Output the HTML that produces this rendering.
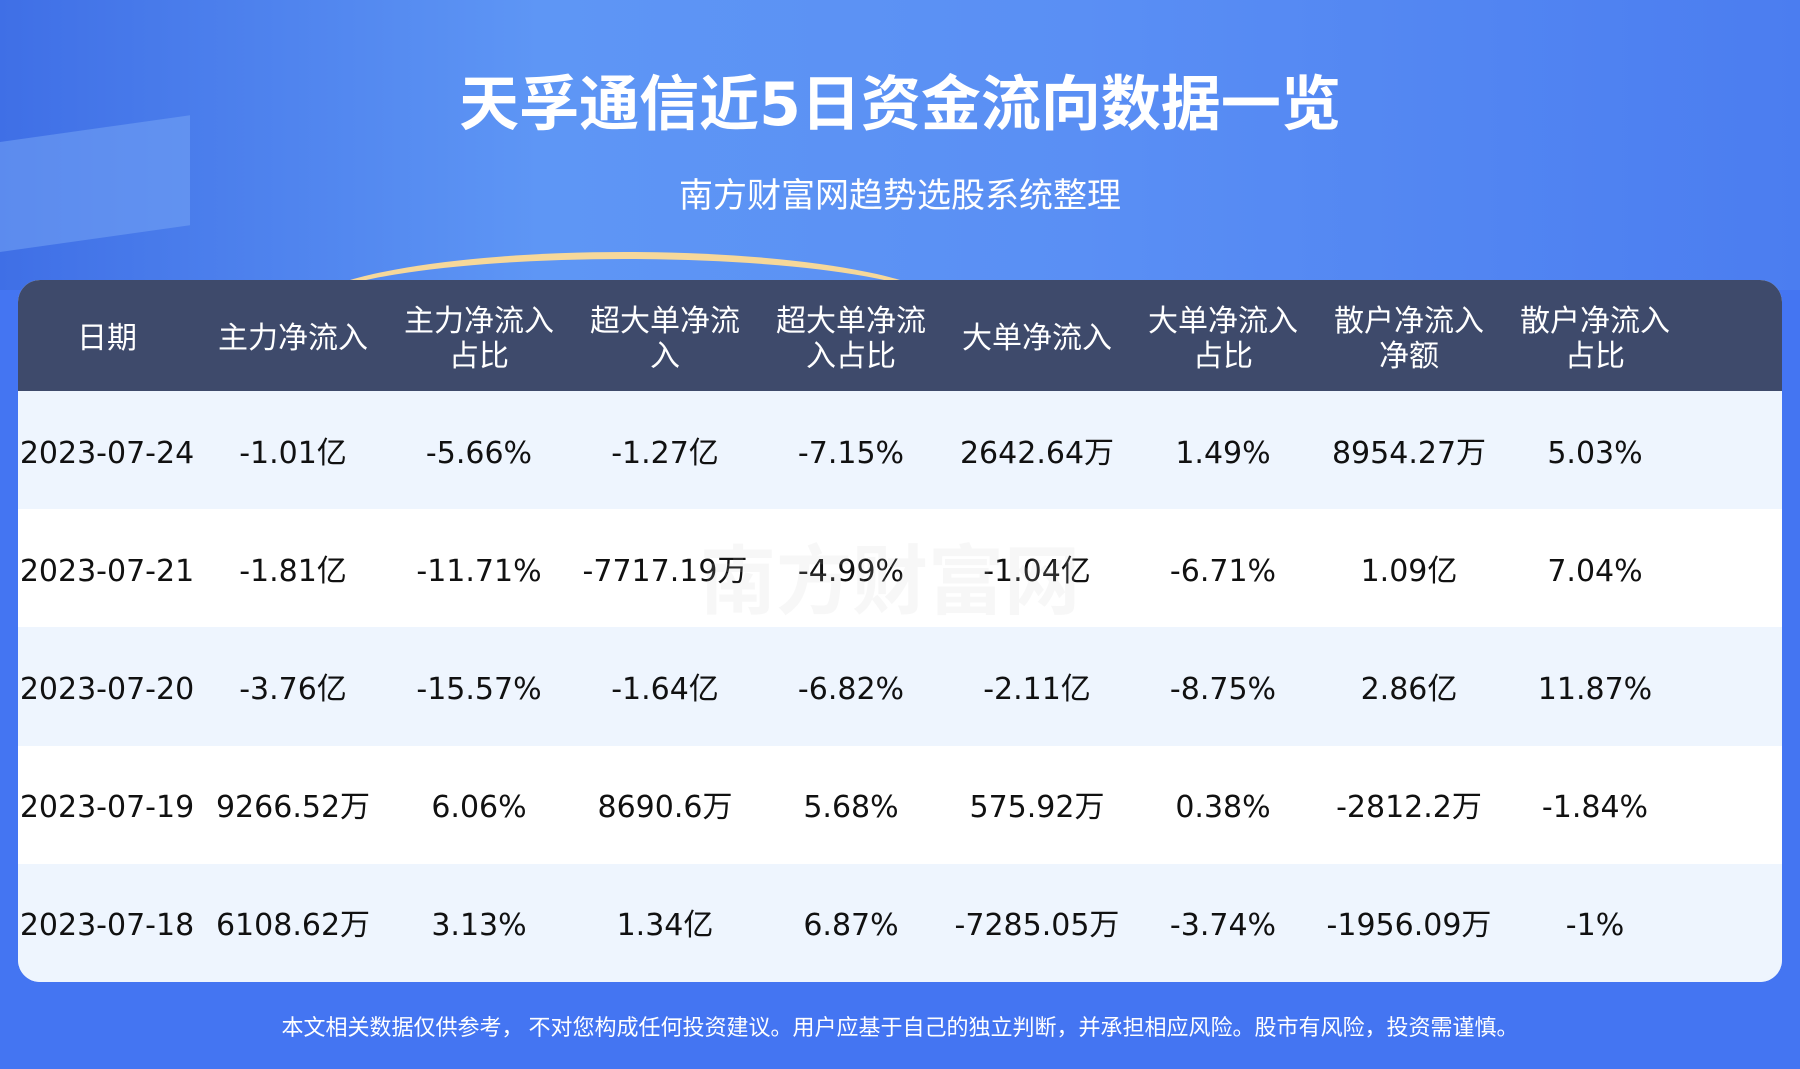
<!DOCTYPE html>
<html><head><meta charset="utf-8"><style>
*{margin:0;padding:0;box-sizing:border-box}
body{width:1800px;height:1069px;overflow:hidden;background:#4475f2;font-family:"DejaVu Sans","Noto Sans CJK SC",sans-serif;position:relative}
.top{position:absolute;left:0;top:0;width:1800px;height:290px;background:linear-gradient(90deg,#3f6fe6 0%,#5e96f5 30%,#5a8ff4 60%,#4b7df0 100%)}
.deco1{position:absolute;left:-20px;top:130px;width:210px;height:110px;background:#7aa8f5;opacity:.5;transform:skewY(-8deg)}
.arc{position:absolute;left:300px;top:252px;width:650px;height:120px;border-radius:50%;border-top:7px solid #f6d89a}
.title{position:absolute;left:0;width:1800px;top:56px;text-align:center;color:#fff;font-weight:bold;font-size:60px;font-family:"DejaVu Sans","Noto Sans CJK SC",sans-serif}
.sub{position:absolute;left:0;width:1800px;top:168px;text-align:center;color:#fff;font-size:34px;font-family:"Noto Sans CJK SC",sans-serif}
.tbl{position:absolute;left:18px;top:280px;width:1764px;height:702px;border-radius:22px;overflow:hidden;background:#fff}
.hd{height:111px;background:#3e4a6b;display:flex}
.row{height:118.2px;display:flex;padding-top:7px}
.row:nth-child(even){background:#eef5fe}
.row:nth-child(odd){background:#fff}
.c{width:186px;display:flex;align-items:center;justify-content:center;text-align:center;white-space:nowrap}
.hd .c{color:#fff;font-size:30px;line-height:35px;font-family:"Noto Sans CJK SC",sans-serif}
.row .c{font-size:30px;line-height:1;color:#111}
.first{margin-left:-4px}
.foot{position:absolute;left:0;width:1800px;top:1010px;text-align:center;color:#fff;font-size:22px;font-family:"Noto Sans CJK SC",sans-serif}
.wm{position:absolute;left:700px;top:520px;font-size:76px;color:rgba(200,200,200,.15);font-family:"Noto Sans CJK SC",sans-serif;font-weight:bold}
</style></head><body>
<div class="top"><div class="deco1"></div><div class="arc"></div></div>
<div class="title">天孚通信近5日资金流向数据一览</div>
<div class="sub">南方财富网趋势选股系统整理</div>
<div class="tbl">
<div class="hd"><div class="c first">日期</div><div class="c">主力净流入</div><div class="c">主力净流入<br>占比</div><div class="c">超大单净流<br>入</div><div class="c">超大单净流<br>入占比</div><div class="c">大单净流入</div><div class="c">大单净流入<br>占比</div><div class="c">散户净流入<br>净额</div><div class="c">散户净流入<br>占比</div></div>
<div class="row"><div class="c first">2023-07-24</div><div class="c">-1.01亿</div><div class="c">-5.66%</div><div class="c">-1.27亿</div><div class="c">-7.15%</div><div class="c">2642.64万</div><div class="c">1.49%</div><div class="c">8954.27万</div><div class="c">5.03%</div></div>
<div class="row"><div class="c first">2023-07-21</div><div class="c">-1.81亿</div><div class="c">-11.71%</div><div class="c">-7717.19万</div><div class="c">-4.99%</div><div class="c">-1.04亿</div><div class="c">-6.71%</div><div class="c">1.09亿</div><div class="c">7.04%</div></div>
<div class="row"><div class="c first">2023-07-20</div><div class="c">-3.76亿</div><div class="c">-15.57%</div><div class="c">-1.64亿</div><div class="c">-6.82%</div><div class="c">-2.11亿</div><div class="c">-8.75%</div><div class="c">2.86亿</div><div class="c">11.87%</div></div>
<div class="row"><div class="c first">2023-07-19</div><div class="c">9266.52万</div><div class="c">6.06%</div><div class="c">8690.6万</div><div class="c">5.68%</div><div class="c">575.92万</div><div class="c">0.38%</div><div class="c">-2812.2万</div><div class="c">-1.84%</div></div>
<div class="row"><div class="c first">2023-07-18</div><div class="c">6108.62万</div><div class="c">3.13%</div><div class="c">1.34亿</div><div class="c">6.87%</div><div class="c">-7285.05万</div><div class="c">-3.74%</div><div class="c">-1956.09万</div><div class="c">-1%</div></div>
</div>
<div class="wm">南方财富网</div>
<div class="foot">本文相关数据仅供参考， 不对您构成任何投资建议。用户应基于自己的独立判断，并承担相应风险。股市有风险，投资需谨慎。</div>
</body></html>
